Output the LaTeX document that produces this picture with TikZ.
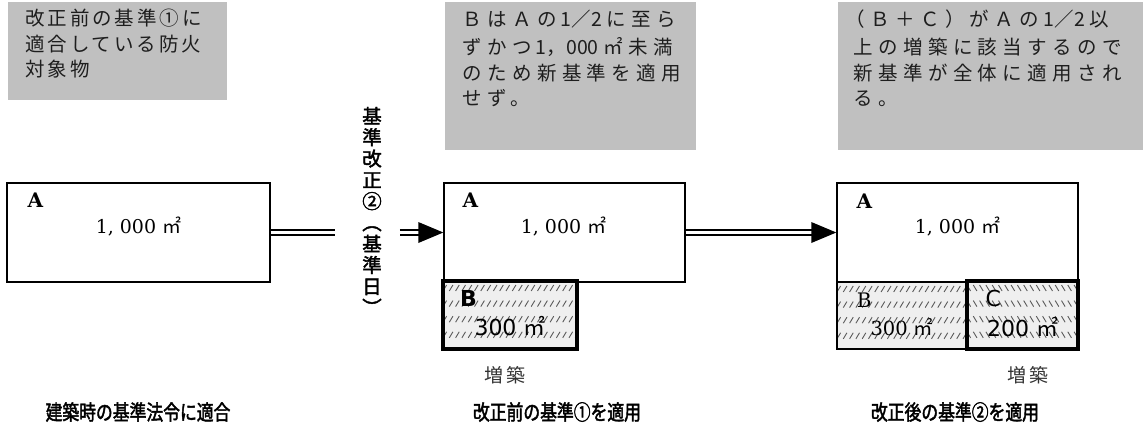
\documentclass[tikz,border=0pt]{standalone}
\usepackage{fontspec}
\setmainfont{DejaVu Serif}
\newfontfamily\serifA{DejaVu Serif}
\newfontfamily\sansA{DejaVu Sans}
\newfontfamily\cjk{Noto Sans CJK JP}
\newfontfamily\cjknarrow[FakeStretch=0.8,FakeBold=2]{Noto Sans CJK JP}
\newfontfamily\cjkmed[FakeBold=2]{Noto Sans CJK JP}
\newfontfamily\cjkone[LetterSpace=15]{Noto Sans CJK JP}
\newfontfamily\cjktwo[LetterSpace=28]{Noto Sans CJK JP}
\usetikzlibrary{calc}
\definecolor{notegray}{HTML}{C0C0C0}
\definecolor{hatchbg}{HTML}{EFEFEF}
\definecolor{hatchfg}{HTML}{5A5A5A}
\definecolor{inktext}{HTML}{1E1E1E}
\definecolor{labelgray}{HTML}{333333}
\begin{document}
\begin{tikzpicture}[x=1pt,y=-1pt,
  note/.style={fill=notegray,draw=none,inner sep=0},
  lineone/.style={anchor=west,inner sep=0,text=inktext,text height=17pt,text depth=2.6pt,font=\cjkone\fontsize{19.5}{19.5}\selectfont},
  linetwo/.style={anchor=west,inner sep=0,text=inktext,text height=17pt,text depth=2.6pt,font=\cjktwo\fontsize{19.5}{19.5}\selectfont},
  area/.style={draw,line width=1.4pt,inner sep=0},
  thickarea/.style={draw,line width=3.2pt,inner sep=0},
  hatchNE/.style={path picture={
    \fill[hatchbg] (path picture bounding box.south west) rectangle (path picture bounding box.north east);
    \foreach \r in {0,1,2,3}{\foreach \i in {-1,...,22}{
      \draw[hatchfg,line width=0.9pt] ($(path picture bounding box.north west)+(\i*6.3,10+\r*15.6)$) -- ++(3.6,-6);
    }}}},
  hatchNW/.style={path picture={
    \fill[hatchbg] (path picture bounding box.south west) rectangle (path picture bounding box.north east);
    \foreach \r in {0,1,2,3}{\foreach \i in {-1,...,22}{
      \draw[hatchfg,line width=0.9pt] ($(path picture bounding box.north west)+(\i*6.3,4+\r*15.6)$) -- ++(3.6,6);
    }}}},
  alab/.style={inner sep=0,font=\serifA\bfseries\fontsize{20}{20}\selectfont},
  aarea/.style={inner sep=0,font=\serifA\fontsize{19}{19}\selectfont},
  sanslab/.style={inner sep=0,font=\sansA\fontsize{22}{22}\selectfont},
  seriflab/.style={inner sep=0,font=\serifA\fontsize{19.5}{19.5}\selectfont},
  dbl/.style={double,double distance=2.8pt,line width=1.8pt},
  head/.style={fill=black},
  vtext/.style={inner sep=0,align=center,font=\cjkmed\fontsize{19.5}{21.3}\selectfont},
  caption/.style={inner sep=0,font=\cjknarrow\fontsize{21}{21}\selectfont},
  extlab/.style={inner sep=0,text=labelgray,font=\cjk\fontsize{19}{19}\selectfont}
]
\useasboundingbox (0,0) rectangle (1143,428);

% grey notes
\node[note,minimum width=219pt,minimum height=98pt] (n1) at (117.5,51) {};
\node[note,minimum width=251pt,minimum height=148pt] (n2) at (570.5,76) {};
\node[note,minimum width=305pt,minimum height=148pt] (n3) at (990.5,76) {};

\node[lineone] (n1a) at (25,18) {改正前の基準①に};
\node[lineone] (n1b) at (25,44) {適合している防火};
\node[lineone] (n1c) at (25,69) {対象物};

\node[linetwo] (n2a) at (462,19) {ＢはＡの{\cjk\ 1／2 }に至ら};
\node[linetwo] (n2b) at (462,47) {ずかつ{\cjk\ 1，000 }㎡未満};
\node[linetwo] (n2c) at (462,73) {のため新基準を適用};
\node[linetwo] (n2d) at (462,98) {せず。};

\node[linetwo] (n3a) at (845,19) {（Ｂ＋Ｃ）がＡの{\cjk\ 1／2 }以};
\node[linetwo] (n3b) at (853,47) {上の増築に該当するので};
\node[linetwo] (n3c) at (853,73) {新基準が全体に適用され};
\node[linetwo] (n3d) at (853,98) {る。};

% buildings
\node[area,minimum width=263pt,minimum height=99pt] (A1) at (138.5,232.5) {};
\node[area,minimum width=241pt,minimum height=99pt] (A2) at (564.5,232.5) {};
\node[area,minimum width=241pt,minimum height=99pt] (A3) at (957.5,232.5) {};

\node[thickarea,hatchNE,minimum width=134pt,minimum height=68pt] (B2) at (510,315) {};
\node[area,hatchNE,minimum width=130pt,minimum height=67pt] (B3) at (902,315.5) {};
\node[thickarea,hatchNW,minimum width=111pt,minimum height=68pt] (C3) at (1022.5,315) {};

\node[alab] (A1l) at ($(A1.north west)+(29,18)$) {A};
\node[alab] (A2l) at ($(A2.north west)+(27,18)$) {A};
\node[alab] (A3l) at ($(A3.north west)+(28,19)$) {A};
\node[aarea] (A1s) at ($(A1.center)+(0,-6)$) {1, 000 {\cjk ㎡}};
\node[aarea] (A2s) at ($(A2.center)+(-1,-6)$) {1, 000 {\cjk ㎡}};
\node[aarea] (A3s) at ($(A3.center)+(0,-6)$) {1, 000 {\cjk ㎡}};

\node[sanslab,font=\sansA\bfseries\fontsize{22}{22}\selectfont] (B2l) at ($(B2.north west)+(27,19)$) {B};
\node[sanslab] (B2s) at ($(B2.center)+(0,11)$) {300 {\cjk ㎡}};
\node[seriflab,font=\serifA\fontsize{20}{20}\selectfont] (B3l) at ($(B3.north west)+(28,18.5)$) {B};
\node[seriflab] (B3s) at ($(B3.center)+(0,11.5)$) {300 {\cjk ㎡}};
\node[sanslab] (C3l) at ($(C3.north west)+(28,19)$) {C};
\node[sanslab] (C3s) at ($(C3.center)+(0,12)$) {200 {\cjk ㎡}};

\node[extlab] (ext1) at (505,375) {増\hspace{3pt}築};
\node[extlab] (ext2) at (1028,375) {増\hspace{3pt}築};

% revision label
\node[vtext] (kijun) at (372,211) {基\\準\\改\\正\\②\\︵\\基\\準\\日\\︶};

% connectors
\draw[dbl] (A1.east) -- ($(A1.east -| kijun.west)+(-27,0)$);
\draw[dbl] ($(kijun.east |- A2.west)+(18,0)$) -- ($(A2.west)+(-20,0)$);
\fill[head] (A2.west) -- ++(-25,-10.5) -- ++(0,21) -- cycle;
\draw[dbl] (A2.east) -- ($(A3.west)+(-20,0)$);
\fill[head] (A3.west) -- ++(-25,-10.5) -- ++(0,21) -- cycle;

% captions
\node[caption] (cap1) at (138,412) {建築時の基準法令に適合};
\node[caption] (cap2) at (557,412) {改正前の基準①を適用};
\node[caption] (cap3) at (955,412) {改正後の基準②を適用};
\end{tikzpicture}
\end{document}
